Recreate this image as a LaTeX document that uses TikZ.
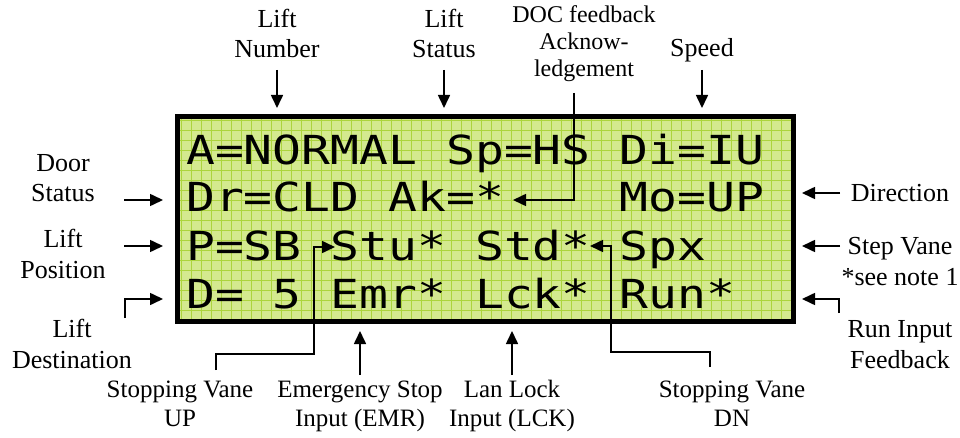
\documentclass[tikz,border=0pt]{standalone}
\usepackage{fontspec}
\setmainfont{Liberation Serif}
\newfontfamily\lcdfont[FakeStretch=1.2]{DejaVu Sans Mono}
\usetikzlibrary{arrows.meta}
\definecolor{lcdback}{RGB}{212,233,143}
\definecolor{lcdline}{RGB}{172,212,62}
\newcommand{\lcdgap}{\hphantom{0}}

\begin{document}
\begin{tikzpicture}[x=1pt, y=-1pt,
    lbl/.style={font=\fontsize{26}{30.5}\selectfont, align=center, anchor=base, inner sep=0pt},
    row/.style={font=\fontsize{40}{40}\selectfont\lcdfont, anchor=base west, inner sep=0pt},
    pointer/.style={line width=1.6pt, -{Triangle[length=13pt,width=12pt]}}]
    \useasboundingbox (0,0) rectangle (960,438);

    % LCD panel with grid
    \fill[lcdback] (177.5,116.5) rectangle (793.5,321.5);
    \foreach \gx in {181.7,191.7,...,791} \draw[lcdline, line width=0.8pt] (\gx,119) -- (\gx,319);
    \foreach \gy in {120,130,...,319} \draw[lcdline, line width=0.8pt] (180,\gy) -- (791,\gy);
    \draw[line width=5pt] (177.5,116.5) rectangle (793.5,321.5);

    % Display rows
    \node[row] (r1) at (186,165) {A=NORMAL\lcdgap Sp=HS\lcdgap Di=IU};
    \node[row] (r2) at (186,212) {Dr=CLD\lcdgap Ak=*\lcdgap\lcdgap\lcdgap\lcdgap Mo=UP};
    \node[row] (r3) at (186,260) {P=SB\lcdgap Stu*\lcdgap Std*\lcdgap Spx};
    \node[row] (r4) at (186,308) {D=\lcdgap 5\lcdgap Emr*\lcdgap Lck*\lcdgap Run*};

    % Labels above (placed at the last baseline)
    \node[lbl] (liftnum) at (277,58) {Lift\\Number};
    \node[lbl] (liftstat) at (444,58) {Lift\\Status};
    \node[lbl, font=\fontsize{24}{27}\selectfont] (docack) at (584,77) {DOC feedback\\Acknow-\\ledgement};
    \node[lbl] (speed) at (702,57) {Speed};

    % Labels left
    \node[lbl] (doorstat) at (63,202) {Door\\Status};
    \node[lbl] (liftpos) at (63,278) {Lift\\Position};
    \node[lbl] (liftdest) at (72,368) {Lift\\Destination};

    % Labels right
    \node[lbl] (direction) at (900,202) {Direction};
    \node[lbl] (stepvane) at (900,285) {Step Vane\\*see note 1};
    \node[lbl] (runfb) at (900,368) {Run Input\\Feedback};

    % Labels below
    \node[lbl, font=\fontsize{25}{28.5}\selectfont] (vaneup) at (180,426) {Stopping Vane\\UP};
    \node[lbl, font=\fontsize{25}{28.5}\selectfont] (emrin) at (360,426) {Emergency Stop\\Input (EMR)};
    \node[lbl, font=\fontsize{25}{28.5}\selectfont] (lckin) at (512,426) {Lan Lock\\Input (LCK)};
    \node[lbl, font=\fontsize{25}{28.5}\selectfont] (vanedn) at (732,426) {Stopping Vane\\DN};

    % Arrow ends
    \coordinate (numtail) at (277,70);   \coordinate (numhead) at (277,108);
    \coordinate (stattail) at (444,70);  \coordinate (stathead) at (444,108);
    \coordinate (spdtail) at (702,70);   \coordinate (spdhead) at (702,108);
    \coordinate (doctail) at (574,93);   \coordinate (dochead) at (513,200);
    \coordinate (doortail) at (124,200); \coordinate (doorhead) at (163,200);
    \coordinate (postail) at (124,246);  \coordinate (poshead) at (163,246);
    \coordinate (desttail) at (125,318); \coordinate (desthead) at (163,299);
    \coordinate (dirtail) at (840,193);  \coordinate (dirhead) at (802,193);
    \coordinate (steptail) at (840,246); \coordinate (stephead) at (802,246);
    \coordinate (runtail) at (839,313);  \coordinate (runhead) at (802,299);
    \coordinate (uptail) at (216,370);   \coordinate (upbend) at (314,354);
    \coordinate (uphead) at (335,247);
    \coordinate (emrtail) at (360,375);  \coordinate (emrhead) at (360,331);
    \coordinate (lcktail) at (512,375);  \coordinate (lckhead) at (512,331);
    \coordinate (dntail) at (710,367);   \coordinate (dnbend) at (611,352);
    \coordinate (dnhead) at (590,246);

    % Arrows
    \draw[pointer] (numtail) -- (numhead);
    \draw[pointer] (stattail) -- (stathead);
    \draw[pointer] (spdtail) -- (spdhead);
    \draw[pointer] (doctail) |- (dochead);
    \draw[pointer] (doortail) -- (doorhead);
    \draw[pointer] (postail) -- (poshead);
    \draw[pointer] (desttail) |- (desthead);
    \draw[pointer] (dirtail) -- (dirhead);
    \draw[pointer] (steptail) -- (stephead);
    \draw[pointer] (runtail) |- (runhead);
    \draw[pointer] (uptail) |- (upbend) |- (uphead);
    \draw[pointer] (emrtail) -- (emrhead);
    \draw[pointer] (lcktail) -- (lckhead);
    \draw[pointer] (dntail) |- (dnbend) |- (dnhead);
\end{tikzpicture}
\end{document}
